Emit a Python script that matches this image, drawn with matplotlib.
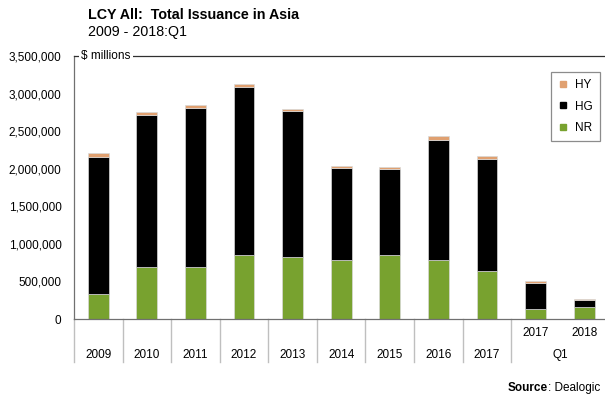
import matplotlib.pyplot as plt
from matplotlib.lines import Line2D
import numpy as np

plt.rcParams['font.family'] = ['Liberation Sans', 'DejaVu Sans']

# Dados (US$ milhões)
anos = ['2009', '2010', '2011', '2012', '2013', '2014', '2015', '2016', '2017', '2017', '2018']
nr = [330000, 690000, 690000, 850000, 820000, 780000, 850000, 780000, 640000, 130000, 160000]
hg = [1830000, 2030000, 2120000, 2240000, 1950000, 1230000, 1150000, 1600000, 1490000, 350000, 90000]
hy = [45000, 30000, 35000, 40000, 20000, 20000, 20000, 50000, 35000, 20000, 16000]
yticks = [0, 500000, 1000000, 1500000, 2000000, 2500000, 3000000, 3500000]

cor_nr = '#78A22F'
cor_hg = '#000000'
cor_hy = '#E0A070'

fig = plt.figure(figsize=(6.05, 4.01), dpi=100)
W, H = 605, 401
ax = fig.add_axes([74 / W, (H - 319) / H, (W - 74) / W, 263 / H])

x = np.arange(len(anos))
nr = np.array(nr)
hg = np.array(hg)
hy = np.array(hy)
larg = 0.43
ax.bar(x, nr, larg, color=cor_nr, edgecolor='#d8d8d8', linewidth=0.5)
ax.bar(x, hg, larg, bottom=nr, color=cor_hg, edgecolor='#d8d8d8', linewidth=0.5)
ax.bar(x, hy, larg, bottom=nr + hg, color=cor_hy, edgecolor='#d8d8d8', linewidth=0.5)

ax.set_xlim(-0.5, 10.43)
ax.set_ylim(0, 3500000)
ax.set_yticks(yticks)
ax.set_yticklabels(['{:,}'.format(v) for v in yticks], fontsize=8.5)
ax.tick_params(axis='y', length=0, pad=9)
ax.set_xticks([])

ax.spines['right'].set_visible(False)
ax.spines['left'].set_color('#707070')
ax.spines['bottom'].set_color('#707070')
ax.spines['top'].set_color('#303030')
for s in ['left', 'bottom', 'top']:
    ax.spines[s].set_linewidth(0.9)

ax.text((81 - 74) / (W - 74), 1.0, '$ millions', transform=ax.transAxes, fontsize=8.5,
        va='center', ha='left', bbox=dict(facecolor='white', edgecolor='none', pad=1.5))

# separadores e rótulos do eixo x
trans = ax.get_xaxis_transform()
for sep in np.arange(-0.5, 9.0, 1.0):
    ax.plot([sep, sep], [0, -0.163], transform=trans, color='#bfbfbf', lw=1, clip_on=False)
for i in range(9):
    ax.text(x[i], -0.137, anos[i], transform=trans, ha='center', va='center', fontsize=8.5)
for i in range(9, 11):
    ax.text(x[i], -0.053, anos[i], transform=trans, ha='center', va='center', fontsize=8.5)
ax.text(9.5, -0.137, 'Q1', transform=trans, ha='center', va='center', fontsize=8.5)

# legenda
handles = [Line2D([], [], marker='s', linestyle='none', color=c, markersize=5)
           for c in [cor_hy, cor_hg, cor_nr]]
leg = ax.legend(handles, ['HY', 'HG', 'NR'], loc='upper right', bbox_to_anchor=(0.99, 0.939),
                fontsize=8.5, frameon=True, fancybox=False, handlelength=0.8,
                handletextpad=0.6, labelspacing=0.8, borderpad=0.6, borderaxespad=0)
leg.get_frame().set_edgecolor('#707070')
leg.get_frame().set_linewidth(0.9)

# títulos
fig.text(88 / W, 1 - 15 / H, 'LCY All:  Total Issuance in Asia', fontsize=10.3,
         fontweight='bold', va='center', ha='left')
fig.text(88 / W, 1 - 32 / H, '2009 - 2018:Q1', fontsize=10.3, va='center', ha='left')

# fonte
t = fig.text(600 / W, 1 - 388 / H, ': Dealogic', fontsize=8.5, ha='right', va='center')
fig.canvas.draw()
bb = t.get_window_extent()
fig.text(bb.x0 / fig.bbox.width, 1 - 388 / H, 'Source', fontsize=8.5, fontweight='bold',
         ha='right', va='center')

plt.savefig('out.png', dpi=100)
